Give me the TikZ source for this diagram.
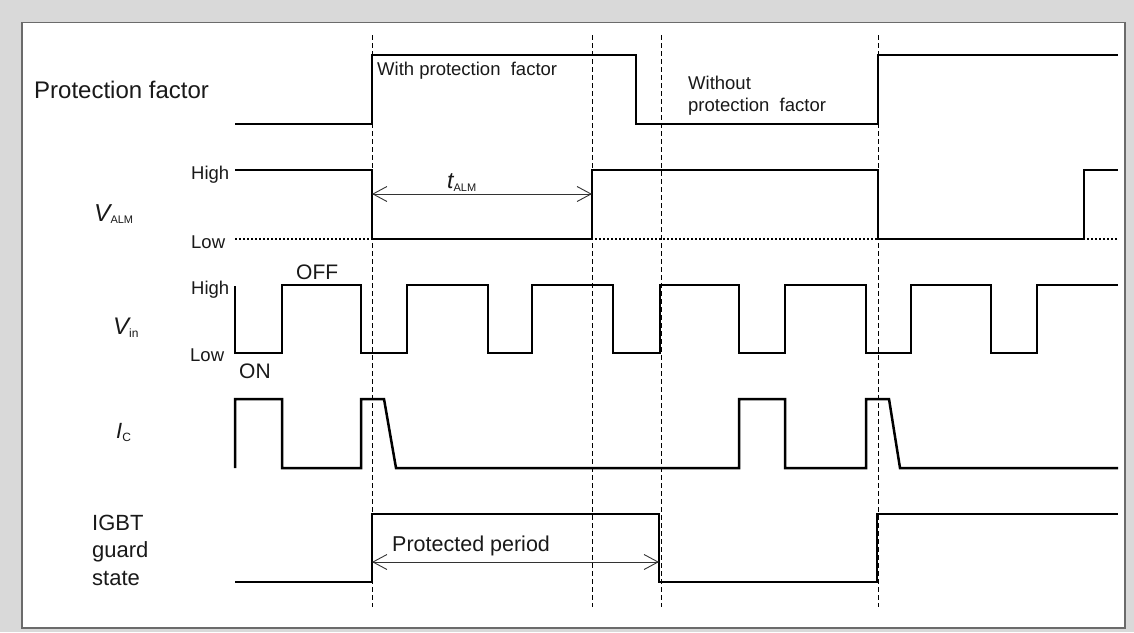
\documentclass[tikz,border=0pt]{standalone}
\usepackage{fontspec}
\setmainfont{Liberation Sans}
\usetikzlibrary{arrows.meta}
\definecolor{bggray}{HTML}{D9D9D9}
\definecolor{framegray}{HTML}{6B6B6B}
\newcommand{\fs}[1]{\fontsize{#1}{#1}\selectfont}
\tikzset{
  trace/.style={line width=2.5pt, line join=miter, black},
  guide/.style={line width=0.9pt, dash pattern=on 5pt off 3pt, black},
  lowdots/.style={line width=1.8pt, dash pattern=on 1.8pt off 2.2pt, black},
  dimline/.style={line width=0.9pt, black!80, {Straight Barb[length=14pt,width=15pt]}-{Straight Barb[length=14pt,width=15pt]}},
  lbl/.style={inner sep=0pt, anchor=base west, text=black!90},
}
\begin{document}
\begin{tikzpicture}[x=1pt,y=-1pt]
\useasboundingbox (0,0) rectangle (1134,632);
\fill[bggray] (0,0) rectangle (1134,632);
\draw[fill=white, draw=framegray, line width=1.2pt] (22,22.5) rectangle (1125,628);

% vertical guides
\foreach \gx/\gn in {372/g1,592/g2,661/g3,878/g4}{
  \coordinate (\gn t) at (\gx,35);
  \coordinate (\gn b) at (\gx,607);
  \draw[guide] (\gn t) -- (\gn b);
}

% Protection factor trace
\draw[trace] (235,124)--(372,124)--(372,55)--(636,55)--(636,124)--(878,124)--(878,55)--(1118,55);

% V_ALM
\draw[lowdots] (235,239)--(1118,239);
\draw[trace] (235,170)--(372,170)--(372,239)--(592,239)--(592,170)--(878,170)--(878,239)--(1084,239)--(1084,170)--(1118,170);

% V_in
\draw[trace] (235,286)--(235,353)--(282,353)--(282,285)--(361,285)--(361,353)--(407,353)--(407,285)--(488,285)--(488,353)--(532,353)--(532,285)--(613,285)--(613,353)--(660,353)--(660,285)--(739,285)--(739,353)--(785,353)--(785,285)--(866,285)--(866,353)--(911,353)--(911,285)--(991,285)--(991,353)--(1037,353)--(1037,285)--(1118,285);

% I_C
\draw[trace] (235,468)--(235,399)--(282,399)--(282,468)--(361,468)--(361,399)--(384,399)--(396,468)--(739,468)--(739,399)--(785,399)--(785,468)--(866,468)--(866,399)--(889,399)--(900,468)--(1118,468);

% IGBT guard state
\draw[trace] (235,582)--(372,582)--(372,514)--(659,514)--(659,582)--(877,582)--(877,514)--(1118,514);

% dimension arrows
\coordinate (ta) at (372,194);
\coordinate (tb) at (592,194);
\draw[dimline] (ta) -- (tb);
\coordinate (pa) at (372,562);
\coordinate (pb) at (659,562);
\draw[dimline] (pa) -- (pb);

% labels
\node[lbl] (pf) at (34,98) {\fs{24}Protection factor};
\node[lbl] (wpf) at (377,75.5) {\fs{18.5}With protection\ \ factor};
\node[lbl] (wo1) at (688,89) {\fs{18.5}Without};
\node[lbl] (wo2) at (688,111) {\fs{18.5}protection\ \ factor};

\node[lbl] (ah) at (191,179) {\fs{18.5}High};
\node[lbl] (al) at (191,248) {\fs{18.5}Low};
\node[lbl] (valm) at (94,221.5) {\fs{24.5}\itshape V\upshape\raisebox{-2pt}{\fs{11}ALM}};
\node[lbl] (talm) at (447,188) {\fs{23}\itshape t\upshape\raisebox{-3pt}{\fs{11}ALM}};

\node[lbl] (ih) at (191,294) {\fs{18.5}High};
\node[lbl] (il) at (190,361) {\fs{18.5}Low};
\node[lbl] (on) at (239,378) {\fs{21}ON};
\node[lbl] (off) at (296,279) {\fs{21}OFF};
\node[lbl] (vin) at (113,334) {\fs{24}\itshape V\upshape\raisebox{-3.5pt}{\fs{12}in}};

\node[lbl] (ic) at (116,438) {\fs{22}\itshape I\upshape\raisebox{-3.5pt}{\fs{12}C}};

\node[lbl] (ig1) at (92,530) {\fs{22}IGBT};
\node[lbl] (ig2) at (92,557) {\fs{22}guard};
\node[lbl] (ig3) at (92,585) {\fs{22}state};

\node[lbl] (pp) at (392,551) {\fs{21.5}Protected period};
\end{tikzpicture}
\end{document}
